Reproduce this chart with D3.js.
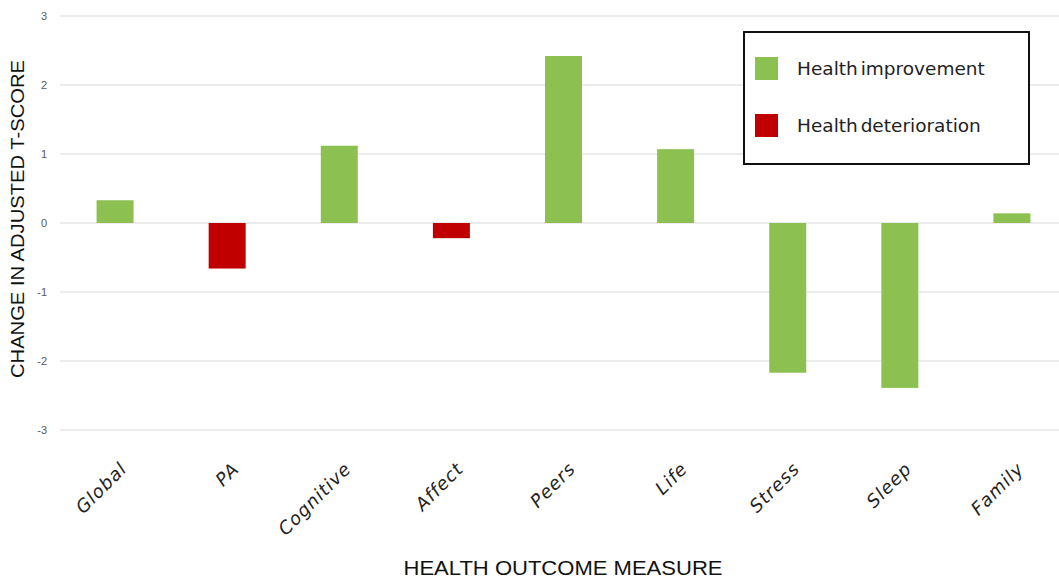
<!DOCTYPE html>
<html>
<head>
<meta charset="utf-8">
<script src="https://cdn.jsdelivr.net/npm/d3@7"></script>
<style>
  html, body { margin: 0; padding: 0; background: #fff; }
  svg { display: block; }
</style>
</head>
<body>
<svg id="chart" width="1059" height="578"></svg>
<script>
// Health outcome measures and change in adjusted T-score
const categories = ["Global", "PA", "Cognitive", "Affect", "Peers", "Life", "Stress", "Sleep", "Family"];
const values = [0.33, -0.66, 1.12, -0.22, 2.42, 1.07, -2.17, -2.39, 0.14];
const outcome = ["improvement", "deterioration", "improvement", "deterioration", "improvement",
                 "improvement", "improvement", "improvement", "improvement"];
const yTicks = [3, 2, 1, 0, -1, -2, -3];
const legendLabels = ["Health improvement", "Health deterioration"];
const legendKeys = ["improvement", "deterioration"];

const colors = { improvement: "#8cc152", deterioration: "#c00000" };

const svg = d3.select("#chart");
const W = 1059, H = 578;

const x = d3.scaleBand().domain(categories).range([59, 1068]).paddingInner(0.67).paddingOuter(0.335);
const y = d3.scaleLinear().domain([-3, 3]).range([430, 16]);

// Gridlines
const grid = svg.append("g");
grid.selectAll("line").data(yTicks).join("line")
  .attr("x1", 60).attr("x2", W)
  .attr("y1", d => y(d)).attr("y2", d => y(d))
  .attr("stroke", "#d9d9d9").attr("stroke-width", 1);

// Y axis labels (plain hyphen for negatives)
const yAxis = d3.axisLeft(y).tickValues(yTicks).tickSize(0).tickPadding(0).tickFormat(d => String(d));
const yg = svg.append("g").attr("transform", "translate(47,0)").call(yAxis);
yg.select(".domain").remove();
yg.selectAll("text")
  .attr("font-family", "Liberation Sans, Arial, sans-serif")
  .attr("font-size", 11).attr("fill", "#595959");

// Bars
svg.append("g").selectAll("rect").data(categories).join("rect")
  .attr("x", d => x(d))
  .attr("width", x.bandwidth())
  .attr("y", (d, i) => y(Math.max(0, values[i])))
  .attr("height", (d, i) => Math.abs(y(values[i]) - y(0)))
  .attr("fill", (d, i) => colors[outcome[i]]);

// X category labels, rotated
const xAxis = d3.axisBottom(x).tickSize(0).tickPadding(0);
const xg = svg.append("g").call(xAxis);
xg.select(".domain").remove();
xg.selectAll(".tick text")
  .attr("font-family", "DejaVu Sans, Liberation Sans, sans-serif")
  .attr("font-style", "oblique")
  .attr("font-size", 18).attr("letter-spacing", 1).attr("fill", "#222")
  .attr("text-anchor", "end")
  .attr("dy", 0)
  .attr("transform", "translate(13,470) rotate(-45)");

// Axis titles
svg.append("text")
  .attr("transform", "translate(24,219) rotate(-90)")
  .attr("text-anchor", "middle")
  .attr("font-family", "Liberation Sans, Arial, sans-serif")
  .attr("font-size", 19).attr("fill", "#111")
  .attr("textLength", 318).attr("lengthAdjust", "spacingAndGlyphs")
  .text("CHANGE IN ADJUSTED T-SCORE");

svg.append("text")
  .attr("x", 563).attr("y", 575)
  .attr("text-anchor", "middle")
  .attr("font-family", "Liberation Sans Narrow, Liberation Sans, Arial, sans-serif")
  .attr("font-size", 20).attr("fill", "#111")
  .attr("textLength", 319).attr("lengthAdjust", "spacingAndGlyphs")
  .text("HEALTH OUTCOME MEASURE");

// Legend
const lg = svg.append("g");
lg.append("rect")
  .attr("x", 744).attr("y", 32).attr("width", 285).attr("height", 132)
  .attr("fill", "#fff").attr("stroke", "#111").attr("stroke-width", 2);
const items = lg.selectAll("g.item").data(legendKeys).join("g")
  .attr("transform", (d, i) => `translate(755,${57 + i * 57})`);
items.append("rect").attr("width", 23).attr("height", 23).attr("fill", d => colors[d]);
items.append("text")
  .attr("x", 42).attr("y", 18)
  .attr("font-family", "DejaVu Sans, Liberation Sans, sans-serif")
  .attr("font-size", 18.5).attr("word-spacing", -3).attr("fill", "#222")
  .text((d, i) => legendLabels[i]);
</script>
</body>
</html>
